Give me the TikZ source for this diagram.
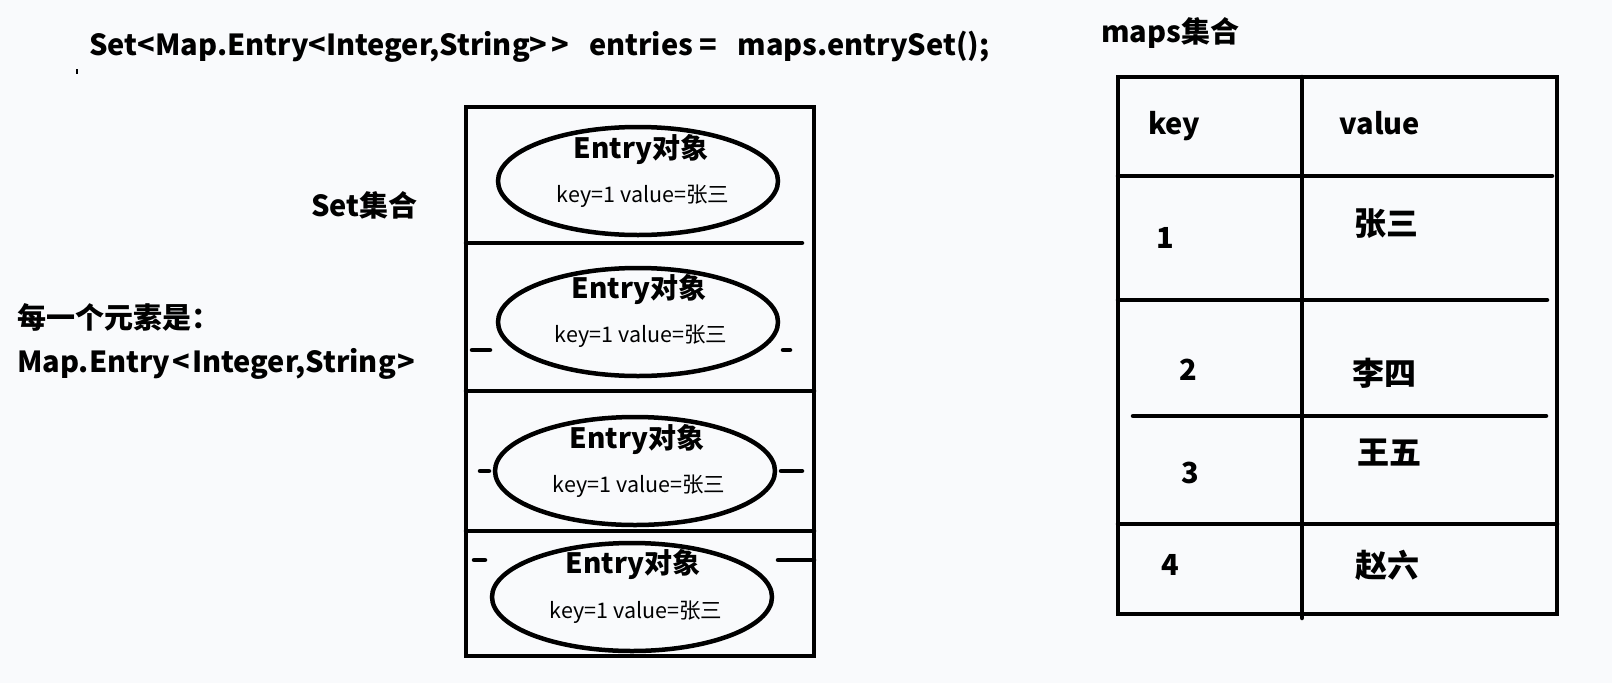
\documentclass[tikz,border=0pt]{standalone}
\usepackage{fontspec}
\setmainfont{Noto Sans CJK SC}
\usetikzlibrary{shapes.geometric}
\definecolor{bg}{HTML}{F9FAFC}
\tikzset{
  bar/.style={line width=4.5pt, line cap=round},
  entrynode/.style={ellipse, draw, line width=4.5pt, minimum width=280pt, minimum height=108pt, inner sep=0pt},
  ttl/.style={font=\fontsize{28}{28}\selectfont\bfseries, inner sep=0pt},
  sub/.style={font=\fontsize{21.5}{21.5}\selectfont, inner sep=0pt},
  lbl/.style={font=\fontsize{29}{29}\selectfont\bfseries, inner sep=0pt},
  cjk/.style={font=\fontsize{32}{32}\selectfont\bfseries, inner sep=0pt},
}
\begin{document}
\begin{tikzpicture}[x=1pt,y=-1pt]
\fill[bg] (0,0) rectangle (1612,683);
\useasboundingbox (0,0) rectangle (1612,683);

% code line
\node[lbl, anchor=west] (code) at (89,47) {Set<Map.Entry<Integer,String>\hspace{4pt}>\hspace{20pt}entries =\hspace{20pt}maps.entrySet();};
\draw[line width=1.5pt] (77,69) -- (77,74);

% left labels
\node[lbl, anchor=west] (setlbl) at (311,205) {Set集合};
\node[lbl, anchor=west] (each) at (17,317) {每一个元素是：};
\node[lbl, anchor=west] (mapentry) at (17,364) {Map.Entry\hspace{2pt}<\hspace{2pt}Integer,String\hspace{2pt}>};

% set box
\draw[bar, line cap=butt] (466,107) rectangle (814,656);
\draw[bar] (466,243) -- (802,243);
\draw[bar] (466,391) -- (814,391);
\draw[bar] (466,531) -- (814,531);
\draw[bar] (472,350) -- (490,350);
\draw[bar] (783,350) -- (790,350);
\draw[bar] (480,471) -- (489,471);
\draw[bar] (781,471) -- (802,471);
\draw[bar] (474,560) -- (485,560);
\draw[bar] (778,560) -- (814,560);

% entries
\node[entrynode] (e1) at (638,181) {};
\node[entrynode] (e2) at (638,322) {};
\node[entrynode] (e3) at (635,471) {};
\node[entrynode] (e4) at (632,597) {};
\node[ttl] (t1) at (641,150) {Entry对象};
\node[ttl] (t2) at (639,290) {Entry对象};
\node[ttl] (t3) at (637,440) {Entry对象};
\node[ttl] (t4) at (633,565) {Entry对象};
\node[sub] (k1) at (643,196) {key=1 value=张三};
\node[sub] (k2) at (641,336) {key=1 value=张三};
\node[sub] (k3) at (639,486) {key=1 value=张三};
\node[sub] (k4) at (636,612) {key=1 value=张三};

% maps table
\node[lbl, anchor=west] (maps) at (1101,33) {maps集合};
\draw[bar, line cap=butt] (1118,77) rectangle (1557,614);
\draw[bar] (1302,77) -- (1302,618);
\draw[bar] (1118,176) -- (1552,176);
\draw[bar] (1118,300) -- (1547,300);
\draw[bar] (1133,416) -- (1546,416);
\draw[bar] (1118,524) -- (1557,524);

\node[lbl] (hk) at (1174,126) {key};
\node[lbl] (hv) at (1380,123) {value};
\node[lbl] (r1k) at (1165,238) {1};
\node[cjk] (r1v) at (1386,224) {张三};
\node[lbl] (r2k) at (1188,370) {2};
\node[cjk] (r2v) at (1384,373) {李四};
\node[lbl] (r3k) at (1190,473) {3};
\node[cjk] (r3v) at (1389,453) {王五};
\node[lbl] (r4k) at (1170,565) {4};
\node[cjk] (r4v) at (1387,565) {赵六};
\end{tikzpicture}
\end{document}
